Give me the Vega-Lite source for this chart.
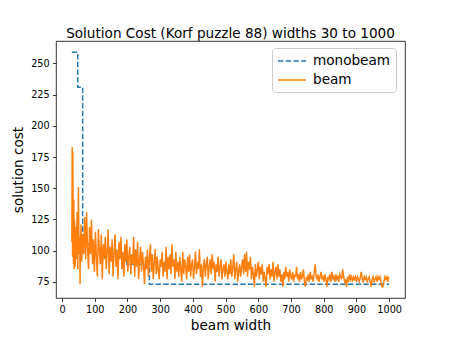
{
  "$schema": "https://vega.github.io/schema/vega-lite/v6.json",
  "width": 349,
  "height": 257,
  "autosize": {"type": "none"},
  "padding": {"left": 56, "top": 41, "right": 45, "bottom": 39},
  "background": "white",
  "title": {"text": "Solution Cost (Korf puzzle 88) widths 30 to 1000", "fontSize": 13.6, "font": "DejaVu Sans", "fontWeight": "normal", "color": "#000000", "anchor": "middle", "offset": 0},
  "config": {
    "view": {"stroke": "#000000", "strokeWidth": 0.8},
    "axis": {"grid": false, "domain": false, "tickColor": "#000000", "tickSize": 3.4, "tickWidth": 0.8, "labelColor": "#000000", "labelFont": "DejaVu Sans", "labelFontSize": 9.7, "labelPadding": 3.4, "titleFont": "DejaVu Sans", "titleFontSize": 13.6, "titleFontWeight": "normal", "titleColor": "#000000"},
    "legend": {"orient": "none", "legendX": 216, "legendY": 7, "title": null, "fillColor": "white", "strokeColor": "#cccccc", "cornerRadius": 3, "padding": 5, "labelFont": "DejaVu Sans", "labelFontSize": 13.6, "labelColor": "#000000", "symbolType": "M-2,0H2", "symbolSize": 196, "symbolStrokeWidth": 1.5, "symbolOffset": 7, "labelOffset": 13, "rowPadding": 4}
  },
  "data": {"values": [
    {"width": 30, "cost": 259, "series": "monobeam"},
    {"width": 48, "cost": 231, "series": "monobeam"},
    {"width": 63, "cost": 105, "series": "monobeam"},
    {"width": 88, "cost": 101, "series": "monobeam"},
    {"width": 129, "cost": 97, "series": "monobeam"},
    {"width": 198, "cost": 89, "series": "monobeam"},
    {"width": 267, "cost": 73, "series": "monobeam"},
    {"width": 1000, "cost": 73, "series": "monobeam"},
    {"width": 30, "cost": 107, "series": "beam"},
    {"width": 31, "cost": 183, "series": "beam"},
    {"width": 32, "cost": 95, "series": "beam"},
    {"width": 33, "cost": 179, "series": "beam"},
    {"width": 34, "cost": 117, "series": "beam"},
    {"width": 35, "cost": 89, "series": "beam"},
    {"width": 36, "cost": 141, "series": "beam"},
    {"width": 37, "cost": 85, "series": "beam"},
    {"width": 38, "cost": 125, "series": "beam"},
    {"width": 39, "cost": 101, "series": "beam"},
    {"width": 40, "cost": 87, "series": "beam"},
    {"width": 42, "cost": 119, "series": "beam"},
    {"width": 44, "cost": 93, "series": "beam"},
    {"width": 46, "cost": 131, "series": "beam"},
    {"width": 48, "cost": 85, "series": "beam"},
    {"width": 50, "cost": 151, "series": "beam"},
    {"width": 52, "cost": 97, "series": "beam"},
    {"width": 54, "cost": 111, "series": "beam"},
    {"width": 55, "cost": 73, "series": "beam"},
    {"width": 56, "cost": 99, "series": "beam"},
    {"width": 58, "cost": 121, "series": "beam"},
    {"width": 60, "cost": 91, "series": "beam"},
    {"width": 63, "cost": 113, "series": "beam"},
    {"width": 66, "cost": 97, "series": "beam"},
    {"width": 69, "cost": 127, "series": "beam"},
    {"width": 72, "cost": 93, "series": "beam"},
    {"width": 75, "cost": 131, "series": "beam"},
    {"width": 78, "cost": 101, "series": "beam"},
    {"width": 81, "cost": 85, "series": "beam"},
    {"width": 84, "cost": 119, "series": "beam"},
    {"width": 87, "cost": 97, "series": "beam"},
    {"width": 90, "cost": 125, "series": "beam"},
    {"width": 93, "cost": 89, "series": "beam"},
    {"width": 96, "cost": 109, "series": "beam"},
    {"width": 99, "cost": 83, "series": "beam"},
    {"width": 102, "cost": 115, "series": "beam"},
    {"width": 105, "cost": 95, "series": "beam"},
    {"width": 108, "cost": 79, "series": "beam"},
    {"width": 111, "cost": 117, "series": "beam"},
    {"width": 114, "cost": 101, "series": "beam"},
    {"width": 117, "cost": 89, "series": "beam"},
    {"width": 120, "cost": 113, "series": "beam"},
    {"width": 123, "cost": 77, "series": "beam"},
    {"width": 126, "cost": 105, "series": "beam"},
    {"width": 129, "cost": 93, "series": "beam"},
    {"width": 132, "cost": 111, "series": "beam"},
    {"width": 135, "cost": 85, "series": "beam"},
    {"width": 138, "cost": 99, "series": "beam"},
    {"width": 141, "cost": 117, "series": "beam"},
    {"width": 144, "cost": 81, "series": "beam"},
    {"width": 147, "cost": 103, "series": "beam"},
    {"width": 150, "cost": 91, "series": "beam"},
    {"width": 153, "cost": 109, "series": "beam"},
    {"width": 156, "cost": 79, "series": "beam"},
    {"width": 159, "cost": 97, "series": "beam"},
    {"width": 162, "cost": 113, "series": "beam"},
    {"width": 165, "cost": 87, "series": "beam"},
    {"width": 168, "cost": 101, "series": "beam"},
    {"width": 171, "cost": 77, "series": "beam"},
    {"width": 174, "cost": 107, "series": "beam"},
    {"width": 177, "cost": 93, "series": "beam"},
    {"width": 180, "cost": 111, "series": "beam"},
    {"width": 183, "cost": 85, "series": "beam"},
    {"width": 186, "cost": 99, "series": "beam"},
    {"width": 189, "cost": 79, "series": "beam"},
    {"width": 192, "cost": 105, "series": "beam"},
    {"width": 195, "cost": 91, "series": "beam"},
    {"width": 198, "cost": 109, "series": "beam"},
    {"width": 201, "cost": 83, "series": "beam"},
    {"width": 204, "cost": 95, "series": "beam"},
    {"width": 207, "cost": 103, "series": "beam"},
    {"width": 210, "cost": 81, "series": "beam"},
    {"width": 213, "cost": 97, "series": "beam"},
    {"width": 216, "cost": 89, "series": "beam"},
    {"width": 219, "cost": 111, "series": "beam"},
    {"width": 222, "cost": 79, "series": "beam"},
    {"width": 225, "cost": 101, "series": "beam"},
    {"width": 228, "cost": 87, "series": "beam"},
    {"width": 231, "cost": 107, "series": "beam"},
    {"width": 234, "cost": 77, "series": "beam"},
    {"width": 237, "cost": 93, "series": "beam"},
    {"width": 240, "cost": 103, "series": "beam"},
    {"width": 243, "cost": 83, "series": "beam"},
    {"width": 246, "cost": 99, "series": "beam"},
    {"width": 249, "cost": 89, "series": "beam"},
    {"width": 252, "cost": 73, "series": "beam"},
    {"width": 255, "cost": 95, "series": "beam"},
    {"width": 258, "cost": 85, "series": "beam"},
    {"width": 261, "cost": 101, "series": "beam"},
    {"width": 264, "cost": 79, "series": "beam"},
    {"width": 267, "cost": 93, "series": "beam"},
    {"width": 270, "cost": 105, "series": "beam"},
    {"width": 273, "cost": 83, "series": "beam"},
    {"width": 276, "cost": 97, "series": "beam"},
    {"width": 279, "cost": 77, "series": "beam"},
    {"width": 282, "cost": 91, "series": "beam"},
    {"width": 285, "cost": 101, "series": "beam"},
    {"width": 288, "cost": 81, "series": "beam"},
    {"width": 291, "cost": 95, "series": "beam"},
    {"width": 294, "cost": 85, "series": "beam"},
    {"width": 297, "cost": 77, "series": "beam"},
    {"width": 300, "cost": 93, "series": "beam"},
    {"width": 303, "cost": 87, "series": "beam"},
    {"width": 306, "cost": 99, "series": "beam"},
    {"width": 309, "cost": 79, "series": "beam"},
    {"width": 312, "cost": 91, "series": "beam"},
    {"width": 315, "cost": 83, "series": "beam"},
    {"width": 318, "cost": 103, "series": "beam"},
    {"width": 321, "cost": 77, "series": "beam"},
    {"width": 324, "cost": 95, "series": "beam"},
    {"width": 327, "cost": 85, "series": "beam"},
    {"width": 330, "cost": 97, "series": "beam"},
    {"width": 333, "cost": 81, "series": "beam"},
    {"width": 336, "cost": 105, "series": "beam"},
    {"width": 339, "cost": 87, "series": "beam"},
    {"width": 342, "cost": 93, "series": "beam"},
    {"width": 345, "cost": 77, "series": "beam"},
    {"width": 348, "cost": 99, "series": "beam"},
    {"width": 351, "cost": 83, "series": "beam"},
    {"width": 354, "cost": 91, "series": "beam"},
    {"width": 357, "cost": 79, "series": "beam"},
    {"width": 360, "cost": 95, "series": "beam"},
    {"width": 363, "cost": 85, "series": "beam"},
    {"width": 366, "cost": 75, "series": "beam"},
    {"width": 369, "cost": 99, "series": "beam"},
    {"width": 372, "cost": 81, "series": "beam"},
    {"width": 375, "cost": 93, "series": "beam"},
    {"width": 378, "cost": 87, "series": "beam"},
    {"width": 381, "cost": 77, "series": "beam"},
    {"width": 384, "cost": 95, "series": "beam"},
    {"width": 387, "cost": 83, "series": "beam"},
    {"width": 390, "cost": 97, "series": "beam"},
    {"width": 393, "cost": 79, "series": "beam"},
    {"width": 396, "cost": 89, "series": "beam"},
    {"width": 399, "cost": 93, "series": "beam"},
    {"width": 402, "cost": 77, "series": "beam"},
    {"width": 405, "cost": 87, "series": "beam"},
    {"width": 408, "cost": 99, "series": "beam"},
    {"width": 411, "cost": 81, "series": "beam"},
    {"width": 414, "cost": 91, "series": "beam"},
    {"width": 417, "cost": 85, "series": "beam"},
    {"width": 420, "cost": 101, "series": "beam"},
    {"width": 423, "cost": 79, "series": "beam"},
    {"width": 426, "cost": 89, "series": "beam"},
    {"width": 429, "cost": 71, "series": "beam"},
    {"width": 432, "cost": 87, "series": "beam"},
    {"width": 435, "cost": 93, "series": "beam"},
    {"width": 438, "cost": 79, "series": "beam"},
    {"width": 441, "cost": 89, "series": "beam"},
    {"width": 444, "cost": 95, "series": "beam"},
    {"width": 447, "cost": 77, "series": "beam"},
    {"width": 450, "cost": 87, "series": "beam"},
    {"width": 453, "cost": 93, "series": "beam"},
    {"width": 456, "cost": 81, "series": "beam"},
    {"width": 459, "cost": 97, "series": "beam"},
    {"width": 462, "cost": 85, "series": "beam"},
    {"width": 465, "cost": 91, "series": "beam"},
    {"width": 468, "cost": 75, "series": "beam"},
    {"width": 471, "cost": 89, "series": "beam"},
    {"width": 474, "cost": 83, "series": "beam"},
    {"width": 477, "cost": 95, "series": "beam"},
    {"width": 480, "cost": 79, "series": "beam"},
    {"width": 483, "cost": 87, "series": "beam"},
    {"width": 486, "cost": 93, "series": "beam"},
    {"width": 489, "cost": 77, "series": "beam"},
    {"width": 492, "cost": 85, "series": "beam"},
    {"width": 495, "cost": 89, "series": "beam"},
    {"width": 498, "cost": 79, "series": "beam"},
    {"width": 501, "cost": 91, "series": "beam"},
    {"width": 504, "cost": 83, "series": "beam"},
    {"width": 507, "cost": 77, "series": "beam"},
    {"width": 510, "cost": 89, "series": "beam"},
    {"width": 513, "cost": 81, "series": "beam"},
    {"width": 516, "cost": 93, "series": "beam"},
    {"width": 519, "cost": 79, "series": "beam"},
    {"width": 522, "cost": 87, "series": "beam"},
    {"width": 525, "cost": 97, "series": "beam"},
    {"width": 528, "cost": 77, "series": "beam"},
    {"width": 531, "cost": 85, "series": "beam"},
    {"width": 534, "cost": 91, "series": "beam"},
    {"width": 537, "cost": 75, "series": "beam"},
    {"width": 540, "cost": 83, "series": "beam"},
    {"width": 543, "cost": 89, "series": "beam"},
    {"width": 546, "cost": 79, "series": "beam"},
    {"width": 549, "cost": 87, "series": "beam"},
    {"width": 552, "cost": 93, "series": "beam"},
    {"width": 555, "cost": 81, "series": "beam"},
    {"width": 558, "cost": 97, "series": "beam"},
    {"width": 561, "cost": 83, "series": "beam"},
    {"width": 564, "cost": 99, "series": "beam"},
    {"width": 567, "cost": 79, "series": "beam"},
    {"width": 570, "cost": 91, "series": "beam"},
    {"width": 573, "cost": 85, "series": "beam"},
    {"width": 576, "cost": 95, "series": "beam"},
    {"width": 579, "cost": 77, "series": "beam"},
    {"width": 582, "cost": 87, "series": "beam"},
    {"width": 585, "cost": 81, "series": "beam"},
    {"width": 588, "cost": 71, "series": "beam"},
    {"width": 591, "cost": 89, "series": "beam"},
    {"width": 594, "cost": 79, "series": "beam"},
    {"width": 597, "cost": 85, "series": "beam"},
    {"width": 600, "cost": 91, "series": "beam"},
    {"width": 603, "cost": 77, "series": "beam"},
    {"width": 606, "cost": 87, "series": "beam"},
    {"width": 609, "cost": 81, "series": "beam"},
    {"width": 612, "cost": 89, "series": "beam"},
    {"width": 615, "cost": 75, "series": "beam"},
    {"width": 618, "cost": 83, "series": "beam"},
    {"width": 621, "cost": 77, "series": "beam"},
    {"width": 624, "cost": 71, "series": "beam"},
    {"width": 627, "cost": 87, "series": "beam"},
    {"width": 630, "cost": 81, "series": "beam"},
    {"width": 633, "cost": 89, "series": "beam"},
    {"width": 636, "cost": 77, "series": "beam"},
    {"width": 639, "cost": 85, "series": "beam"},
    {"width": 642, "cost": 79, "series": "beam"},
    {"width": 645, "cost": 91, "series": "beam"},
    {"width": 648, "cost": 75, "series": "beam"},
    {"width": 651, "cost": 83, "series": "beam"},
    {"width": 654, "cost": 87, "series": "beam"},
    {"width": 657, "cost": 77, "series": "beam"},
    {"width": 660, "cost": 89, "series": "beam"},
    {"width": 663, "cost": 79, "series": "beam"},
    {"width": 666, "cost": 85, "series": "beam"},
    {"width": 669, "cost": 75, "series": "beam"},
    {"width": 672, "cost": 81, "series": "beam"},
    {"width": 675, "cost": 71, "series": "beam"},
    {"width": 678, "cost": 83, "series": "beam"},
    {"width": 681, "cost": 77, "series": "beam"},
    {"width": 684, "cost": 87, "series": "beam"},
    {"width": 687, "cost": 79, "series": "beam"},
    {"width": 690, "cost": 83, "series": "beam"},
    {"width": 693, "cost": 75, "series": "beam"},
    {"width": 696, "cost": 85, "series": "beam"},
    {"width": 699, "cost": 79, "series": "beam"},
    {"width": 702, "cost": 77, "series": "beam"},
    {"width": 705, "cost": 83, "series": "beam"},
    {"width": 708, "cost": 75, "series": "beam"},
    {"width": 711, "cost": 81, "series": "beam"},
    {"width": 714, "cost": 79, "series": "beam"},
    {"width": 717, "cost": 87, "series": "beam"},
    {"width": 720, "cost": 77, "series": "beam"},
    {"width": 723, "cost": 81, "series": "beam"},
    {"width": 726, "cost": 75, "series": "beam"},
    {"width": 729, "cost": 83, "series": "beam"},
    {"width": 732, "cost": 77, "series": "beam"},
    {"width": 735, "cost": 79, "series": "beam"},
    {"width": 738, "cost": 85, "series": "beam"},
    {"width": 741, "cost": 75, "series": "beam"},
    {"width": 744, "cost": 71, "series": "beam"},
    {"width": 747, "cost": 79, "series": "beam"},
    {"width": 750, "cost": 77, "series": "beam"},
    {"width": 753, "cost": 81, "series": "beam"},
    {"width": 756, "cost": 75, "series": "beam"},
    {"width": 759, "cost": 83, "series": "beam"},
    {"width": 762, "cost": 77, "series": "beam"},
    {"width": 765, "cost": 79, "series": "beam"},
    {"width": 768, "cost": 75, "series": "beam"},
    {"width": 771, "cost": 83, "series": "beam"},
    {"width": 774, "cost": 89, "series": "beam"},
    {"width": 777, "cost": 79, "series": "beam"},
    {"width": 780, "cost": 77, "series": "beam"},
    {"width": 783, "cost": 81, "series": "beam"},
    {"width": 786, "cost": 75, "series": "beam"},
    {"width": 789, "cost": 79, "series": "beam"},
    {"width": 792, "cost": 83, "series": "beam"},
    {"width": 795, "cost": 77, "series": "beam"},
    {"width": 798, "cost": 79, "series": "beam"},
    {"width": 801, "cost": 75, "series": "beam"},
    {"width": 804, "cost": 81, "series": "beam"},
    {"width": 807, "cost": 77, "series": "beam"},
    {"width": 810, "cost": 71, "series": "beam"},
    {"width": 813, "cost": 79, "series": "beam"},
    {"width": 816, "cost": 77, "series": "beam"},
    {"width": 819, "cost": 81, "series": "beam"},
    {"width": 822, "cost": 75, "series": "beam"},
    {"width": 825, "cost": 83, "series": "beam"},
    {"width": 828, "cost": 77, "series": "beam"},
    {"width": 831, "cost": 79, "series": "beam"},
    {"width": 834, "cost": 75, "series": "beam"},
    {"width": 837, "cost": 81, "series": "beam"},
    {"width": 840, "cost": 77, "series": "beam"},
    {"width": 843, "cost": 79, "series": "beam"},
    {"width": 846, "cost": 75, "series": "beam"},
    {"width": 849, "cost": 81, "series": "beam"},
    {"width": 852, "cost": 79, "series": "beam"},
    {"width": 855, "cost": 77, "series": "beam"},
    {"width": 858, "cost": 85, "series": "beam"},
    {"width": 861, "cost": 79, "series": "beam"},
    {"width": 864, "cost": 75, "series": "beam"},
    {"width": 867, "cost": 77, "series": "beam"},
    {"width": 870, "cost": 71, "series": "beam"},
    {"width": 873, "cost": 79, "series": "beam"},
    {"width": 876, "cost": 75, "series": "beam"},
    {"width": 879, "cost": 81, "series": "beam"},
    {"width": 882, "cost": 77, "series": "beam"},
    {"width": 885, "cost": 79, "series": "beam"},
    {"width": 888, "cost": 75, "series": "beam"},
    {"width": 891, "cost": 79, "series": "beam"},
    {"width": 894, "cost": 77, "series": "beam"},
    {"width": 897, "cost": 79, "series": "beam"},
    {"width": 900, "cost": 75, "series": "beam"},
    {"width": 903, "cost": 79, "series": "beam"},
    {"width": 906, "cost": 77, "series": "beam"},
    {"width": 909, "cost": 75, "series": "beam"},
    {"width": 912, "cost": 79, "series": "beam"},
    {"width": 915, "cost": 83, "series": "beam"},
    {"width": 918, "cost": 77, "series": "beam"},
    {"width": 921, "cost": 75, "series": "beam"},
    {"width": 924, "cost": 79, "series": "beam"},
    {"width": 927, "cost": 77, "series": "beam"},
    {"width": 930, "cost": 79, "series": "beam"},
    {"width": 933, "cost": 75, "series": "beam"},
    {"width": 936, "cost": 77, "series": "beam"},
    {"width": 939, "cost": 79, "series": "beam"},
    {"width": 942, "cost": 75, "series": "beam"},
    {"width": 945, "cost": 71, "series": "beam"},
    {"width": 948, "cost": 77, "series": "beam"},
    {"width": 951, "cost": 79, "series": "beam"},
    {"width": 954, "cost": 75, "series": "beam"},
    {"width": 957, "cost": 77, "series": "beam"},
    {"width": 960, "cost": 79, "series": "beam"},
    {"width": 963, "cost": 75, "series": "beam"},
    {"width": 966, "cost": 79, "series": "beam"},
    {"width": 969, "cost": 77, "series": "beam"},
    {"width": 972, "cost": 79, "series": "beam"},
    {"width": 975, "cost": 75, "series": "beam"},
    {"width": 978, "cost": 71, "series": "beam"},
    {"width": 981, "cost": 71, "series": "beam"},
    {"width": 984, "cost": 75, "series": "beam"},
    {"width": 987, "cost": 79, "series": "beam"},
    {"width": 990, "cost": 77, "series": "beam"},
    {"width": 993, "cost": 79, "series": "beam"},
    {"width": 996, "cost": 75, "series": "beam"},
    {"width": 999, "cost": 79, "series": "beam"}
  ]},
  "encoding": {
    "x": {"field": "width", "type": "quantitative", "title": "beam width", "scale": {"domain": [-18.5, 1048.5], "nice": false, "zero": false}, "axis": {"values": [0, 100, 200, 300, 400, 500, 600, 700, 800, 900, 1000], "format": "d", "titlePadding": 4}},
    "y": {"field": "cost", "type": "quantitative", "title": "solution cost", "scale": {"domain": [62, 268], "nice": false, "zero": false}, "axis": {"values": [75, 100, 125, 150, 175, 200, 225, 250], "format": "d", "titlePadding": 5}},
    "color": {"field": "series", "type": "nominal", "scale": {"domain": ["monobeam", "beam"], "range": ["#1f77b4", "#ff7f0e"]}},
    "strokeDash": {"field": "series", "type": "nominal", "scale": {"domain": ["monobeam", "beam"], "range": [[5.4, 2.3], [1, 0]]}}
  },
  "layer": [
    {"transform": [{"filter": "datum.series === 'monobeam'"}], "mark": {"type": "line", "interpolate": "step-after", "strokeWidth": 1.46, "clip": true}},
    {"transform": [{"filter": "datum.series === 'beam'"}], "mark": {"type": "line", "strokeWidth": 1.46, "clip": true}}
  ]
}
